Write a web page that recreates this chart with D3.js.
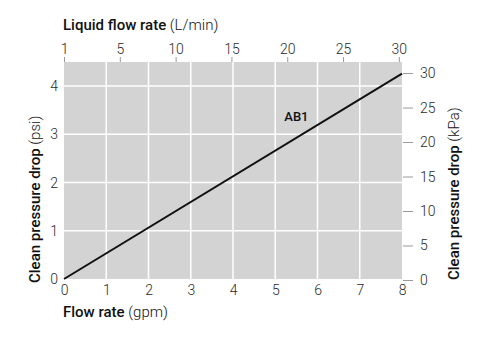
<!DOCTYPE html>
<html><head><meta charset="utf-8">
<script src="https://cdn.jsdelivr.net/npm/d3@7"></script>
<style>
body{margin:0;background:#fff}
text{font-family:Roboto,"Liberation Sans",Arial,sans-serif}
</style></head><body>
<svg id="c" width="500" height="344"></svg>
<script>
// data
const gpmTicks = [0,1,2,3,4,5,6,7,8];
const psiTicks = [0,1,2,3,4];
const kpaTicks = [0,5,10,15,20,25,30];
const lminTickValues = [0,5,10,15,20,25,30];
const lminTickLabels = ["1","5","10","15","20","25","30"];
const seriesName = "AB1";
const seriesGpm = [0, 8];
const seriesPsi = [0, 4.26];
const labelPos = {gpm: 5.5, psi: 3.28};

const svg = d3.select("#c");
const L = 64, R = 402, T = 62, B = 279;
const x = d3.scaleLinear().domain([0,8]).range([L,R]);
const xTop = d3.scaleLinear().domain([0,8*3.785]).range([L,R]);
const y = d3.scaleLinear().domain([0,4.5]).range([B,T]);
const yK = d3.scaleLinear().domain([0,31.6]).range([B+1,T]);

svg.append("rect").attr("x",L).attr("y",T).attr("width",R-L).attr("height",B-T).attr("fill","#d3d3d4");
// grid
svg.append("g").selectAll("line").data(gpmTicks.filter(d=>d>0&&d<8)).join("line")
  .attr("x1",d=>x(d)).attr("x2",d=>x(d)).attr("y1",T).attr("y2",B)
  .attr("stroke","#fff").attr("stroke-width",1.5);
svg.append("g").selectAll("line").data(psiTicks.filter(d=>d>0)).join("line")
  .attr("x1",L).attr("x2",R).attr("y1",d=>y(d)).attr("y2",d=>y(d))
  .attr("stroke","#fff").attr("stroke-width",1.5);

const tickFont = "14px", col="#2a2a2a";
// bottom axis
const gb = svg.append("g").attr("transform",`translate(0,${B})`)
  .call(d3.axisBottom(x).tickValues(gpmTicks).tickSize(0).tickPadding(6).tickFormat(d3.format("d")));
gb.select(".domain").remove();
// left axis
const gl = svg.append("g").attr("transform",`translate(${L},0)`)
  .call(d3.axisLeft(y).tickValues(psiTicks).tickSize(0).tickPadding(6).tickFormat(d3.format("d")));
gl.select(".domain").remove();
// right axis
const gr = svg.append("g").attr("transform",`translate(${R+1},0)`)
  .call(d3.axisRight(yK).tickValues(kpaTicks).tickSize(10).tickPadding(7).tickFormat(d3.format("d")));
gr.select(".domain").remove();
gr.selectAll("line").attr("stroke","#999");
// top axis
const gt = svg.append("g").attr("transform",`translate(0,${T})`)
  .call(d3.axisTop(xTop).tickValues(lminTickValues).tickSize(5).tickPadding(3).tickFormat((d,i)=>lminTickLabels[i]));
gt.select(".domain").remove();
gt.selectAll("line").attr("stroke","#999");

svg.selectAll(".tick text").attr("font-size",tickFont).attr("fill",col)
  .attr("font-family","Roboto,'Liberation Sans',Arial,sans-serif").attr("font-weight",300);

// line
svg.append("path").datum(seriesGpm.map((g,i)=>[g,seriesPsi[i]]))
  .attr("d",d3.line().x(d=>x(d[0])).y(d=>y(d[1])))
  .attr("stroke","#111").attr("stroke-width",2).attr("fill","none");
svg.append("text").attr("x",x(labelPos.gpm)).attr("y",y(labelPos.psi)).attr("text-anchor","middle")
  .attr("font-size","13px").attr("font-weight",500).attr("fill","#111").text(seriesName);

// titles
function title(sel, bold, light){
  sel.append("tspan").attr("font-weight",500).text(bold);
  sel.append("tspan").attr("font-weight",300).text(" "+light);
}
title(svg.append("text").attr("x",L-1).attr("y",30).attr("font-size","15px").attr("fill","#111"),"Liquid flow rate","(L/min)");
title(svg.append("text").attr("x",L-1).attr("y",317).attr("font-size","15px").attr("fill","#111"),"Flow rate","(gpm)");
title(svg.append("text").attr("transform",`translate(40,${B+4}) rotate(-90)`).attr("font-size","15px").attr("fill","#111"),"Clean pressure drop","(psi)");
title(svg.append("text").attr("transform",`translate(459,${B+1}) rotate(-90)`).attr("font-size","15px").attr("fill","#111"),"Clean pressure drop","(kPa)");
</script>
</body></html>
